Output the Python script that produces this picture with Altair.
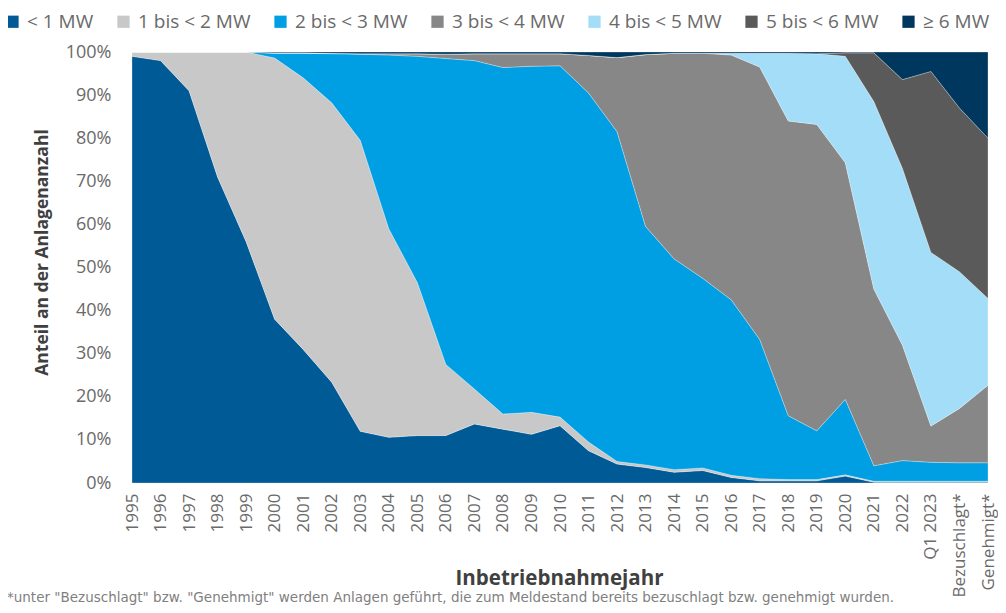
import altair as alt
import pandas as pd

categories = ["1995", "1996", "1997", "1998", "1999", "2000", "2001", "2002", "2003",
              "2004", "2005", "2006", "2007", "2008", "2009", "2010", "2011", "2012",
              "2013", "2014", "2015", "2016", "2017", "2018", "2019", "2020", "2021",
              "2022", "Q1 2023", "Bezuschlagt*", "Genehmigt*"]

series_names = ["< 1 MW", "1 bis < 2 MW", "2 bis < 3 MW", "3 bis < 4 MW",
                "4 bis < 5 MW", "5 bis < 6 MW", "≥ 6 MW"]
colors = ["#005a96", "#c8c8c8", "#009fe3", "#878787", "#a3ddf8", "#5a5a5a", "#00375f"]

# shares in percent per category
lt1 = [99, 98, 91, 71, 56, 38, 31, 23.4, 12, 10.6, 11, 11, 13.7, 12.5, 11.3, 13.3,
       7.5, 4.4, 3.6, 2.5, 2.9, 1.3, 0.5, 0.5, 0.5, 1.6, 0.2, 0.2, 0.2, 0.2, 0.2]
mw1_2 = [1, 2, 9, 29, 44, 60.6, 63, 64.8, 67.5, 48.4, 35.5, 16.5, 8.1, 3.5, 5.1, 2.0,
         2.0, 0.6, 0.6, 0.6, 0.6, 0.5, 0.5, 0.3, 0.3, 0.3, 0.2, 0.2, 0.2, 0.2, 0.2]
mw2_3 = [0, 0, 0, 0, 0, 1.1, 5.7, 11.4, 20, 40.3, 52.5, 71, 76.2, 80.4, 80.3, 81.5,
         81, 76.5, 55.3, 48.9, 44, 40.7, 32.3, 14.8, 11.3, 17.5, 3.6, 4.8, 4.4, 4.3, 4.3]
mw3_4 = [0, 0, 0, 0, 0, 0.1, 0.1, 0.1, 0.1, 0.3, 0.6, 1.0, 1.6, 3.2, 2.9, 2.8,
         8.7, 17.2, 39.9, 47.7, 52.2, 56.8, 63.2, 68.4, 71.1, 54.9, 41, 26.8, 8.4, 12.6, 18]
mw4_5 = [0, 0, 0, 0, 0, 0, 0, 0, 0, 0, 0, 0, 0, 0, 0, 0,
         0, 0, 0, 0, 0, 0.4, 3.2, 15.7, 16.4, 24.7, 43.5, 41, 40.3, 31.7, 20.1]
mw5_6 = [0, 0, 0, 0, 0, 0, 0, 0, 0, 0, 0, 0, 0, 0, 0, 0,
         0, 0, 0, 0, 0, 0, 0, 0, 0, 0.8, 11.3, 20.6, 42, 38, 37.2]
ge6 = [0, 0, 0, 0, 0, 0.2, 0.2, 0.3, 0.4, 0.4, 0.4, 0.5, 0.4, 0.4, 0.4, 0.4,
       0.8, 1.3, 0.6, 0.3, 0.3, 0.3, 0.3, 0.3, 0.4, 0.2, 0.2, 6.4, 4.5, 13, 20]

series_values = [lt1, mw1_2, mw2_3, mw3_4, mw4_5, mw5_6, ge6]

footnote = ('*unter "Bezuschlagt" bzw. "Genehmigt" werden Anlagen geführt, die zum '
            'Meldestand bereits bezuschlagt bzw. genehmigt wurden.')

rows = []
for k, (name, vals) in enumerate(zip(series_names, series_values)):
    for cat, v in zip(categories, vals):
        rows.append({"Jahr": cat, "Klasse": name, "Anteil": v, "ord": k})
df = pd.DataFrame(rows)

FONT = "Open Sans"
TXT = "#6a6a6a"

areas = alt.Chart(df).mark_area(
    interpolate="linear", stroke="#ffffff", strokeWidth=0.5, strokeOpacity=0.55
).encode(
    x=alt.X("Jahr:N", sort=categories,
            scale=alt.Scale(type="point", padding=0),
            axis=alt.Axis(title="Inbetriebnahmejahr", labelAngle=270,
                          labelFontSize=17, labelColor=TXT, labelFont=FONT,
                          labelPadding=10, ticks=False, domain=False, grid=False,
                          titleFontSize=20.5, titleFont=FONT, titleFontWeight="bold",
                          titleColor="#404040", titleX=427, titleY=95,
                          titleBaseline="middle")),
    y=alt.Y("Anteil:Q", stack="normalize",
            scale=alt.Scale(domain=[0, 1]),
            axis=alt.Axis(title="Anteil an der Anlagenanzahl", format=".0%",
                          values=[i / 10 for i in range(11)],
                          labelFontSize=18, labelColor=TXT, labelFont=FONT,
                          labelPadding=21, ticks=False, domain=False, grid=False,
                          titleFontSize=17.5, titleFont=FONT, titleFontWeight="bold",
                          titleColor="#404040", titleAngle=270, titleX=-90,
                          titleY=200, titleBaseline="middle", titleAlign="center")),
    color=alt.Color("Klasse:N", sort=series_names,
                    scale=alt.Scale(domain=series_names, range=colors),
                    legend=alt.Legend(title=None, orient="none", legendX=-129,
                                      legendY=-40, direction="horizontal",
                                      symbolType="square", symbolSize=150,
                                      symbolStrokeWidth=0, labelFontSize=19,
                                      labelFont=FONT, labelColor=TXT,
                                      columnPadding=20, labelOffset=5,
                                      labelLimit=0)),
    order=alt.Order("ord:Q", sort="ascending"),
)

note = alt.Chart(pd.DataFrame({"t": [footnote]})).mark_text(
    align="left", baseline="middle", fontSize=13.5, font="DejaVu Sans", color="#7f7f7f"
).encode(text="t:N", x=alt.value(-125), y=alt.value(546))

chart = alt.layer(areas, note).properties(
    width=856, height=431,
    autosize=alt.AutoSizeParams(type="none"),
    padding={"left": 124, "top": 44, "right": 10, "bottom": 122},
).configure_view(stroke=None)

chart.save("out.html", embed_options={"renderer": "svg", "actions": False})
